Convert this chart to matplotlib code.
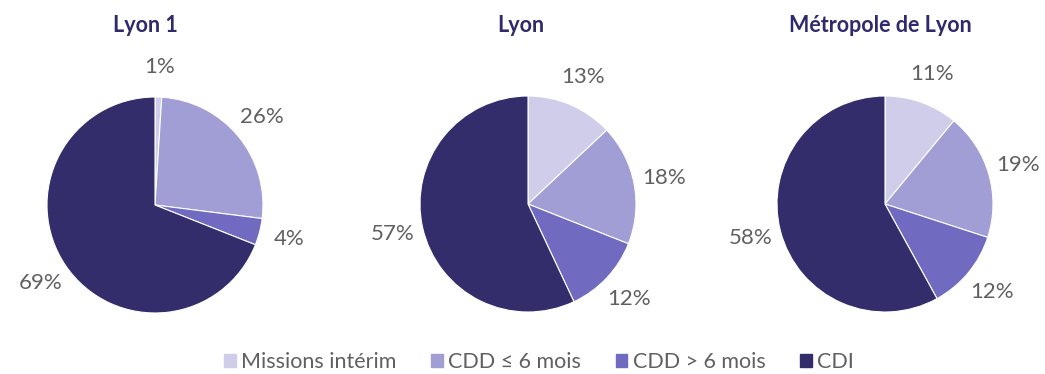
import matplotlib.pyplot as plt

plt.rcParams['font.family'] = ['Lato', 'DejaVu Sans']

categories = ['Missions intérim', 'CDD ≤ 6 mois', 'CDD > 6 mois', 'CDI']
colors = ['#CFCDE9', '#A19DD5', '#706AC0', '#332D6C']

titles = ['Lyon 1', 'Lyon', 'Métropole de Lyon']
lyon1 = [1, 26, 4, 69]
lyon = [13, 18, 12, 57]
metropole = [11, 19, 12, 58]
series = [lyon1, lyon, metropole]

W, H = 1045, 374
fig = plt.figure(figsize=(W / 100, H / 100), dpi=100)

# pie centres in pixels (from top-left) and radius
centres = [(155, 205), (528, 204), (885, 204)]
title_x = [145, 521, 880]
r = 108
half = 1.5 * r

for (cx, cy), tx, title, vals in zip(centres, title_x, titles, series):
    ax = fig.add_axes([(cx - half) / W, (H - cy - half) / H, 2 * half / W, 2 * half / H])
    wedges, _, autotexts = ax.pie(
        vals, colors=colors, startangle=90, counterclock=False,
        autopct=lambda p: f'{p:.0f}%', pctdistance=1.28,
        wedgeprops=dict(edgecolor='white', linewidth=0.8),
        textprops=dict(color='#606060', fontsize=16))
    ax.set_xlim(-1.5, 1.5)
    ax.set_ylim(-1.5, 1.5)
    ax.set_aspect('equal')
    ax.axis('off')
    fig.text(tx / W, 1 - 26 / H, title, ha='center', va='center',
             fontsize=15.5, fontweight='bold', color='#2E2A6B')

handles = [plt.Rectangle((0, 0), 1, 1, color=c) for c in colors]
fig.legend(handles, categories, loc='center', bbox_to_anchor=(539 / W, 1 - 362 / H),
           ncol=4, frameon=False, fontsize=15.5,
           labelcolor='#606060', handlelength=0.55, handleheight=0.55,
           handletextpad=0.25, columnspacing=1.6)

fig.savefig('out.png', dpi=100, facecolor='white')
